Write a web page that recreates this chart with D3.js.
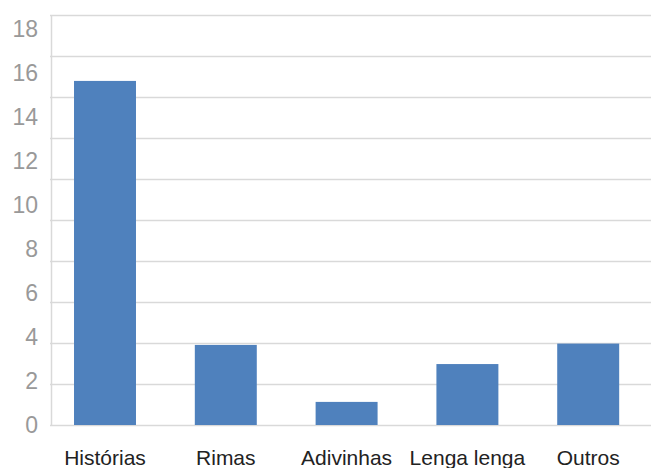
<!DOCTYPE html>
<html>
<head>
<meta charset="utf-8">
<script src="https://cdn.jsdelivr.net/npm/d3@7"></script>
<style>
  html, body { margin: 0; padding: 0; background: #ffffff; }
  svg { display: block; }
</style>
</head>
<body>
<svg id="chart" width="651" height="468"></svg>
<script>
// Categories and counts
const categories = ["Histórias", "Rimas", "Adivinhas", "Lenga lenga", "Outros"];
const values = [15.64, 3.64, 1.05, 2.77, 3.7];
const tickLabels = [0, 2, 4, 6, 8, 10, 12, 14, 16, 18];

const svg = d3.select("#chart");
const plotLeft = 51, plotRight = 651, plotTop = 15, plotBottom = 425;

// Value axis (labelled 0–18)
const y = d3.scaleLinear().domain([0, 18]).range([plotBottom, 29]);
// Horizontal guide lines spread over the whole plot height
const gridY = d3.scaleLinear().domain([0, 20]).range([plotBottom, plotTop]);

const x = d3.scaleBand()
  .domain(categories)
  .range([44.6, 648.6])
  .paddingInner(0.487)
  .paddingOuter(0.2435);

// Gridlines
svg.append("g")
  .selectAll("line")
  .data(gridY.ticks(10))
  .join("line")
  .attr("x1", plotLeft - 1)
  .attr("x2", plotRight)
  .attr("y1", d => Math.round(gridY(d)) + 0.5)
  .attr("y2", d => Math.round(gridY(d)) + 0.5)
  .attr("stroke", "#d9d9d9")
  .attr("stroke-width", 1.5);

// Left axis line
svg.append("line")
  .attr("x1", plotLeft + 0.5).attr("x2", plotLeft + 0.5)
  .attr("y1", plotTop).attr("y2", plotBottom + 1)
  .attr("stroke", "#d9d9d9")
  .attr("stroke-width", 1.5);

// Value axis labels
const yAxis = d3.axisLeft(y).tickValues(tickLabels).tickSize(0).tickPadding(0);
const gy = svg.append("g")
  .attr("transform", `translate(38,0)`)
  .call(yAxis);
gy.select(".domain").remove();
gy.selectAll("text")
  .attr("font-family", "Liberation Sans, Arial, sans-serif")
  .attr("font-size", "23px")
  .attr("fill", "#999999");

// Bars
svg.append("g")
  .selectAll("rect")
  .data(categories.map((c, i) => ({ c, v: values[i] })))
  .join("rect")
  .attr("x", d => x(d.c))
  .attr("width", x.bandwidth())
  .attr("y", d => y(d.v))
  .attr("height", d => y(0) - y(d.v))
  .attr("fill", "#4f81bd");

// Category labels
const xAxis = d3.axisBottom(x).tickSize(0).tickPadding(0);
const gx = svg.append("g")
  .attr("transform", `translate(0,450)`)
  .call(xAxis);
gx.select(".domain").remove();
gx.selectAll("text")
  .attr("dy", "0.71em")
  .attr("font-family", "Liberation Sans, Arial, sans-serif")
  .attr("font-size", "21px")
  .attr("fill", "#222222");
</script>
</body>
</html>
